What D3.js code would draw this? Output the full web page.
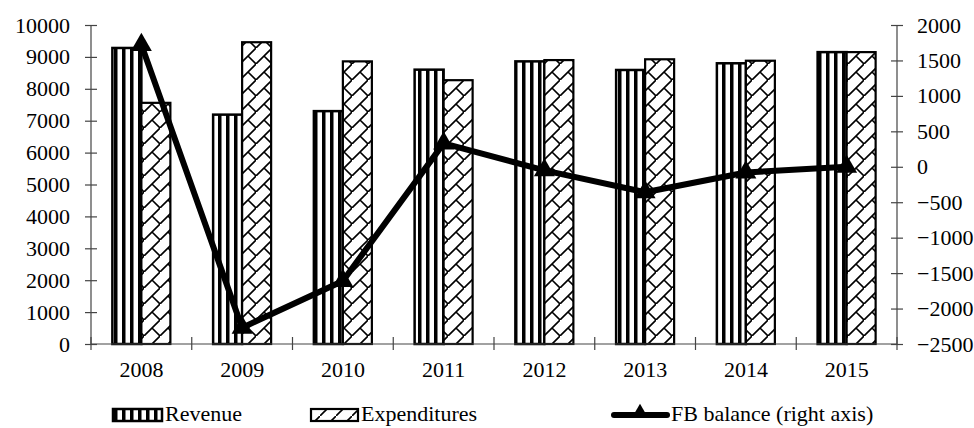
<!DOCTYPE html>
<html>
<head>
<meta charset="utf-8">
<script src="https://cdn.jsdelivr.net/npm/d3@7"></script>
<style>
  html, body { margin: 0; padding: 0; background: #fff; }
  text { font-family: "Liberation Serif", "Times New Roman", serif; fill: #000; }
</style>
</head>
<body>
<svg id="chart" width="974" height="428"></svg>
<script>
const years = ["2008","2009","2010","2011","2012","2013","2014","2015"];
const revenue = [9280, 7190, 7300, 8600, 8860, 8590, 8800, 9150];
const expenditures = [7560, 9460, 8860, 8270, 8900, 8925, 8880, 9150];
const fbBalance = [1720, -2270, -1610, 330, -50, -360, -80, 0];
const leftTicks = [0,1000,2000,3000,4000,5000,6000,7000,8000,9000,10000];
const rightTicks = [-2500,-2000,-1500,-1000,-500,0,500,1000,1500,2000];
const seriesNames = ["Revenue", "Expenditures", "FB balance (right axis)"];

(function () {
const svg = d3.select("#chart");
const pLeft = 91, pRight = 897, pTop = 25, pBottom = 344;
const axisColor = "#444";
const fontSize = 22;

const x = d3.scaleBand().domain(years).range([pLeft, pRight]);
const yL = d3.scaleLinear().domain([0, 10000]).range([pBottom, pTop]);
const yR = d3.scaleLinear().domain([-2500, 2000]).range([pBottom, pTop]);

// patterns
const defs = svg.append("defs");
const stripe = defs.append("pattern").attr("id", "stripes")
  .attr("patternUnits", "userSpaceOnUse").attr("width", 8).attr("height", 8);
stripe.append("rect").attr("width", 8).attr("height", 8).attr("fill", "#fff");
stripe.append("rect").attr("x", 2).attr("width", 3.5).attr("height", 8).attr("fill", "#000");

const brick = defs.append("pattern").attr("id", "brick")
  .attr("patternUnits", "userSpaceOnUse").attr("width", 16).attr("height", 16);
brick.append("rect").attr("width", 16).attr("height", 16).attr("fill", "#fff");
brick.append("path")
  .attr("d", "M-2,18 L18,-2 M8,8 L16,16 M-8,8 L0,16 M8,-8 L16,0")
  .attr("stroke", "#000").attr("stroke-width", 1.6).attr("fill", "none");

const legendBrick = defs.append("pattern").attr("id", "diag")
  .attr("patternUnits", "userSpaceOnUse").attr("width", 16).attr("height", 16);
legendBrick.append("rect").attr("width", 16).attr("height", 16).attr("fill", "#fff");
legendBrick.append("path").attr("d", "M-2,18 L18,-2")
  .attr("stroke", "#000").attr("stroke-width", 1.6);

// bars
const barW = 29;
const groupW = barW * 2;
const bx = d => x(d) + (x.bandwidth() - groupW) / 2;

svg.append("g").selectAll("rect").data(years).join("rect")
  .attr("x", d => bx(d))
  .attr("y", (d, i) => yL(revenue[i]))
  .attr("width", barW)
  .attr("height", (d, i) => yL(0) - yL(revenue[i]))
  .attr("fill", "url(#stripes)")
  .attr("stroke", "#000").attr("stroke-width", 2.5);

svg.append("g").selectAll("rect").data(years).join("rect")
  .attr("x", d => bx(d) + barW)
  .attr("y", (d, i) => yL(expenditures[i]))
  .attr("width", barW)
  .attr("height", (d, i) => yL(0) - yL(expenditures[i]))
  .attr("fill", "url(#brick)")
  .attr("stroke", "#000").attr("stroke-width", 2.2);

// axes
const gL = svg.append("g").attr("transform", `translate(${pLeft},0)`)
  .call(d3.axisLeft(yL).tickValues(leftTicks).tickSize(6).tickFormat(d3.format("d")));
const gR = svg.append("g").attr("transform", `translate(${pRight},0)`)
  .call(d3.axisRight(yR).tickValues(rightTicks).tickSize(6).tickFormat(d3.format("d")));
const gX = svg.append("g").attr("transform", `translate(0,${pBottom})`)
  .call(d3.axisBottom(x).tickSize(0));

[gL, gR, gX].forEach(g => {
  g.select(".domain").attr("stroke", axisColor).attr("stroke-width", 1.2);
  g.selectAll(".tick line").attr("stroke", axisColor).attr("stroke-width", 1.2);
  g.selectAll("text").style("font-family", '"Liberation Serif", serif')
    .style("font-size", fontSize + "px").attr("fill", "#000");
});
gL.select(".domain").attr("d", `M0,${pTop}V${pBottom}`);
gR.select(".domain").attr("d", `M0,${pTop}V${pBottom}`);
gX.select(".domain").attr("d", `M${pLeft},0H${pRight}`);
gL.selectAll(".tick line").attr("x1", 6).attr("x2", -6);
gL.selectAll(".tick text").attr("x", -21);
gR.selectAll(".tick line").attr("x1", -6).attr("x2", 6);
gR.selectAll(".tick text").attr("x", 20);
gX.selectAll(".tick text").attr("y", 17).attr("dy", "0.71em");
const boundaries = years.map(d => x(d)).concat([pRight]);
gX.selectAll(".bound").data(boundaries).join("line").attr("class", "bound")
  .attr("x1", d => d).attr("x2", d => d).attr("y1", -7).attr("y2", 6)
  .attr("stroke", axisColor).attr("stroke-width", 1.2);

// line
const cx = d => x(d) + x.bandwidth() / 2;
const line = d3.line().x((d, i) => cx(years[i])).y(d => yR(d));
svg.append("path").datum(fbBalance)
  .attr("d", line).attr("fill", "none")
  .attr("stroke", "#000").attr("stroke-width", 6).attr("stroke-linejoin", "round");

const tri = d3.symbol().type(d3.symbolTriangle).size(190);
svg.append("g").selectAll("path").data(fbBalance).join("path")
  .attr("transform", (d, i) => `translate(${cx(years[i])},${yR(d)})`)
  .attr("d", tri).attr("fill", "#000");

// legend
const lg = svg.append("g");
const ly = 415;
const tb = 421;
lg.append("rect").attr("x", 113).attr("y", ly - 6).attr("width", 49).attr("height", 12)
  .attr("fill", "url(#stripes)").attr("stroke", "#000").attr("stroke-width", 2.5);
lg.append("text").attr("x", 165).attr("y", tb).style("font-size", fontSize + "px").text(seriesNames[0]);
lg.append("rect").attr("x", 311).attr("y", ly - 6).attr("width", 47).attr("height", 12)
  .attr("fill", "url(#diag)").attr("stroke", "#000").attr("stroke-width", 2.2);
lg.append("text").attr("x", 361).attr("y", tb).style("font-size", fontSize + "px").text(seriesNames[1]);
lg.append("line").attr("x1", 614).attr("x2", 667).attr("y1", ly).attr("y2", ly)
  .attr("stroke", "#000").attr("stroke-width", 6).attr("stroke-linecap", "round");
lg.append("path").attr("transform", `translate(640,${ly - 2})`)
  .attr("d", d3.symbol().type(d3.symbolTriangle).size(110)).attr("fill", "#000");
lg.append("text").attr("x", 671).attr("y", tb).style("font-size", fontSize + "px").text(seriesNames[2]);
})();
</script>
</body>
</html>
